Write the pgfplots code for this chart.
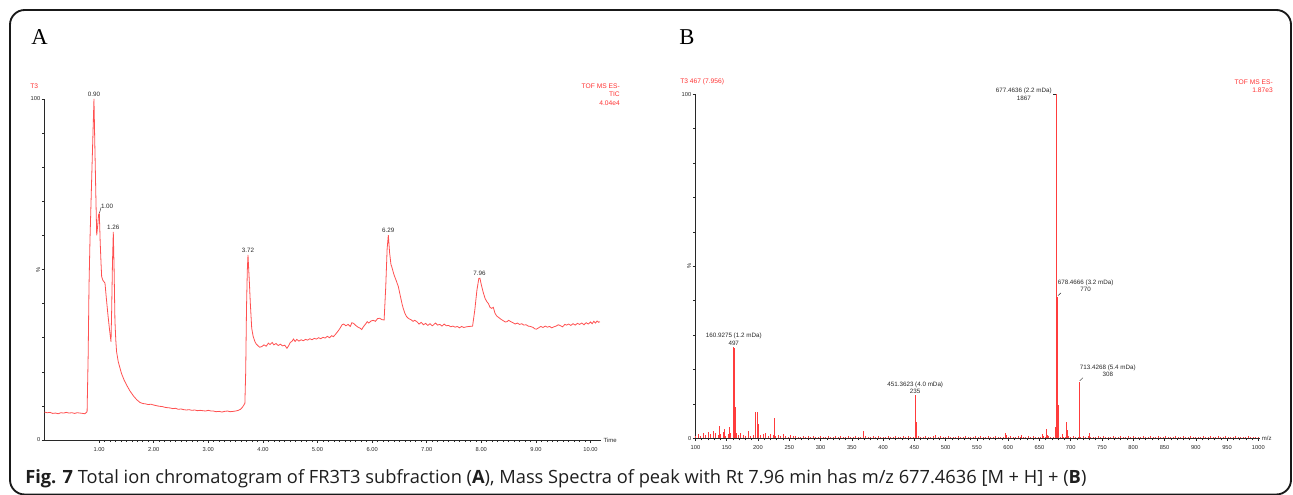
\documentclass[border=0pt]{standalone}
\usepackage{fontspec}
\setmainfont{Liberation Sans}
\newfontfamily\seriffont{Liberation Serif}
\newfontfamily\capfont{Open Sans}
\usepackage{pgfplots}
\pgfplotsset{compat=1.18}
\definecolor{trace}{RGB}{255,80,80}
\definecolor{stick}{RGB}{255,60,60}
\definecolor{redlbl}{RGB}{255,50,50}
\definecolor{tk}{RGB}{40,40,40}
\definecolor{captxt}{RGB}{30,30,30}
\tikzset{pk/.style={font=\fontsize{4.7}{5.6}\selectfont, text=tk, inner sep=0pt, align=center}}
\pgfplotsset{
  msstyle/.style={
    scale only axis, anchor=south west, clip=false,
    ymin=0, ymax=100,
    axis lines=left,
    axis line style={line width=0.7pt, color=tk, -},
    tick align=outside,
    major tick length=2.2pt, minor tick length=1.5pt,
    every tick/.style={color=tk, line width=0.45pt},
    minor tick style={color=tk, line width=0.45pt},
    ytick={0,50,100}, yticklabels={0,\rotatebox{90}{\%},100},
    minor ytick={10,20,30,40,60,70,80,90},
    ticklabel style={font=\fontsize{4.3}{5}\selectfont, color=tk, inner sep=0.8pt},
    xticklabel style={yshift=-2.2pt},
    /pgf/number format/assume math mode=true,
  },
}
\begin{document}
\begin{tikzpicture}[x=0.75pt,y=-0.75pt]
\useasboundingbox (0,0) rectangle (1293,495);
\draw[line width=1.4pt, rounded corners=11pt, black!90] (10,10) rectangle (1291,494.5);
\node[anchor=base west, font=\seriffont\fontsize{17}{17}\selectfont, inner sep=0pt] at (31,45) {A};
\node[anchor=base west, font=\seriffont\fontsize{17}{17}\selectfont, inner sep=0pt] at (679,45) {B};
% ---------------- Panel A ----------------
\begin{axis}[msstyle,
  at={(33.375pt,-330pt)}, width=417.7pt, height=255.75pt,
  xmin=0, xmax=10.2,
  xtick={1,2,3,4,5,6,7,8,9,10},
  xticklabels={1.00,2.00,3.00,4.00,5.00,6.00,7.00,8.00,9.00,10.00},
  minor x tick num=9,
]
\addplot[trace, line width=0.6pt, mark=none] coordinates {
(0.00,8.2)(0.05,8.0)(0.10,8.1)(0.15,7.8)(0.20,7.9)(0.25,7.7)(0.30,8.0)(0.35,7.9)(0.40,8.1)(0.45,7.9)
(0.50,8.0)(0.55,7.8)(0.60,8.0)(0.65,7.9)(0.70,7.8)(0.74,7.7)(0.78,8.3)
(0.80,25)(0.815,45)(0.833,58.6)(0.87,80)(0.906,100)(0.92,88)(0.94,72)(0.956,60)(0.975,63)(0.99,66)(1.004,66.5)
(1.02,58)(1.035,52)(1.047,47.9)(1.07,46.8)(1.09,46.4)(1.108,46.0)(1.13,42)(1.16,37)(1.19,32.5)(1.218,28.8)
(1.23,38)(1.245,52)(1.26,61)(1.275,50)(1.29,35)(1.305,29.5)(1.32,25.9)(1.35,23.0)(1.41,19.5)(1.46,17.5)
(1.505,16.1)(1.56,14.5)(1.63,12.9)(1.69,11.8)(1.75,11.0)(1.80,10.7)(1.85,10.6)(1.90,10.4)(1.95,10.5)(1.99,10.3)
(2.04,10.1)(2.10,9.9)(2.16,9.8)(2.20,9.6)(2.24,9.5)(2.30,9.4)(2.35,9.2)(2.40,9.3)(2.45,9.0)(2.50,9.1)
(2.55,8.9)(2.60,8.8)(2.65,8.9)(2.70,8.7)(2.75,8.8)(2.80,8.6)(2.85,8.7)(2.90,8.6)(2.95,8.5)(3.00,8.7)
(3.05,8.5)(3.09,8.5)(3.14,8.3)(3.20,8.4)(3.25,8.2)(3.30,8.4)(3.35,8.5)(3.40,8.3)(3.46,8.4)(3.50,8.5)
(3.55,8.7)(3.59,9.0)(3.62,9.5)(3.65,10.2)(3.67,10.8)(3.685,20)(3.70,39)(3.715,50)(3.727,54.3)(3.74,50)
(3.75,47)(3.77,40)(3.795,32.8)(3.82,30.5)(3.855,28.8)(3.88,28.1)(3.90,27.8)(3.94,27.2)(3.98,27.4)(4.02,27.9)
(4.06,27.5)(4.10,28.4)(4.13,28.0)(4.17,28.6)(4.20,27.9)(4.24,28.3)(4.28,27.7)(4.32,28.1)(4.36,27.6)(4.40,27.8)
(4.44,26.9)(4.47,27.6)(4.50,28.6)(4.53,28.9)(4.56,29.6)(4.59,28.9)(4.62,29.5)(4.66,29.0)(4.70,29.4)(4.74,29.1)
(4.78,29.5)(4.82,29.3)(4.86,29.7)(4.90,29.4)(4.94,29.8)(4.98,29.6)(5.02,30.0)(5.06,29.7)(5.10,30.1)(5.14,29.9)
(5.18,30.4)(5.22,30.0)(5.26,30.6)(5.29,30.3)(5.33,31.0)(5.37,31.8)(5.41,32.7)(5.45,33.8)(5.48,34.0)(5.52,33.5)
(5.56,33.9)(5.60,33.3)(5.63,34.4)(5.66,34.2)(5.70,33.6)(5.74,33.1)(5.78,32.8)(5.81,32.4)(5.84,33.2)(5.88,34.0)
(5.91,34.7)(5.94,34.3)(5.98,34.9)(6.02,35.1)(6.06,34.8)(6.10,35.6)(6.14,35.7)(6.18,35.3)(6.22,35.2)(6.25,45)
(6.275,56)(6.297,60.1)(6.32,55)(6.345,51.5)(6.36,50.8)(6.40,48.5)(6.44,46.8)(6.48,45)(6.52,42)(6.55,39.8)
(6.57,38.6)(6.60,37.2)(6.63,36.2)(6.67,35.6)(6.71,35.3)(6.75,34.8)(6.78,35.1)(6.82,34.7)(6.86,34.0)(6.90,34.5)
(6.94,33.8)(6.98,34.2)(7.02,33.6)(7.06,34.1)(7.10,33.5)(7.12,33.7)(7.16,34.3)(7.20,33.7)(7.24,33.9)(7.28,33.4)
(7.32,34.0)(7.36,33.5)(7.40,33.6)(7.44,33.2)(7.48,33.4)(7.52,33.1)(7.56,33.3)(7.60,32.9)(7.64,33.3)(7.68,33.0)
(7.73,33.2)(7.78,33.3)(7.84,33.4)(7.88,38)(7.92,44)(7.955,47.4)(7.976,47.4)(8.00,45.5)(8.04,43)(8.07,41.5)
(8.10,40.6)(8.13,40.0)(8.16,38.9)(8.19,38.6)(8.22,38.9)(8.25,37.2)(8.28,36.4)(8.32,35.9)(8.36,35.4)(8.40,35.0)
(8.44,34.6)(8.47,34.7)(8.50,35.1)(8.54,34.7)(8.58,34.4)(8.62,34.0)(8.66,34.3)(8.70,33.9)(8.74,34.1)(8.78,33.7)
(8.82,33.8)(8.86,33.4)(8.90,33.3)(8.95,33.0)(8.98,32.6)(9.01,32.5)(9.05,32.9)(9.09,33.3)(9.13,33.0)(9.17,33.4)
(9.21,33.1)(9.25,33.3)(9.29,32.9)(9.33,33.2)(9.37,33.4)(9.41,33.8)(9.45,33.5)(9.49,33.2)(9.53,33.9)(9.56,33.7)
(9.60,34.0)(9.64,33.6)(9.68,34.1)(9.72,33.7)(9.76,34.2)(9.80,33.9)(9.84,34.3)(9.88,33.8)(9.92,34.4)(9.96,34.0)
(10.00,34.6)(10.03,34.1)(10.06,34.8)(10.09,34.3)(10.12,34.9)(10.15,34.5)(10.17,34.7)
};
\node[pk, anchor=south] at (axis cs:0.906,100.6) {0.90};
\draw[tk, line width=0.3pt] (axis cs:1.008,66.6) -- (axis cs:1.035,68.2);
\node[pk, anchor=south west] at (axis cs:1.03,67.9) {1.00};
\node[pk, anchor=south] at (axis cs:1.26,61.6) {1.26};
\node[pk, anchor=south] at (axis cs:3.727,54.9) {3.72};
\node[pk, anchor=south] at (axis cs:6.297,60.7) {6.29};
\node[pk, anchor=south] at (axis cs:7.966,48.0) {7.96};
\node[anchor=west, font=\fontsize{4.5}{5}\selectfont, text=tk, inner sep=0pt] at (axis cs:10.2,0) {\hspace{1.5pt}Time};
\end{axis}
\node[anchor=west, font=\fontsize{5}{6}\selectfont, text=redlbl, inner sep=0pt] at (30,86) {T3};
\node[anchor=east, font=\fontsize{5}{6}\selectfont, text=redlbl, inner sep=0pt] at (620,86) {TOF MS ES-};
\node[anchor=east, font=\fontsize{5}{6}\selectfont, text=redlbl, inner sep=0pt] at (620,94.5) {TIC};
\node[anchor=east, font=\fontsize{5}{6}\selectfont, text=redlbl, inner sep=0pt] at (620,103) {4.04e4};
% ---------------- Panel B ----------------
\begin{axis}[msstyle,
  at={(521.6pt,-328.7pt)}, width=423.1pt, height=258pt,
  xmin=100, xmax=1002,
  xtick={100,150,...,1000},
  minor x tick num=4,
  xticklabel style={/pgf/number format/1000 sep={}},
]
\addplot[ycomb, stick, line width=0.55pt, mark=none] coordinates {
(100,0.6)(104,1.1)(108,0.8)(112,1.5)(116,0.9)(120,1.8)(124,1.2)(128,2.0)(132,1.4)(136,0.9)
(140,1.3)(144,1.7)(148,0.8)(152,1.1)(156,1.6)(160,0.7)(164,1.2)(168,0.9)(172,1.4)(176,1.0)
(180,0.8)(184,1.3)(188,0.7)(192,1.0)(196,1.2)(200,0.6)(204,0.9)(208,1.1)(212,1.5)(216,0.8)
(220,1.3)(224,1.0)(228,0.7)(232,0.9)(236,0.6)(240,1.1)(244,0.8)(248,0.5)(252,0.9)(256,0.7)(260,0.6)
(264,0.5)(268,0.3)(272,0.7)(276,0.4)(280,0.6)(284,0.3)(288,0.8)(292,0.5)(296,0.4)(300,0.6)
(304,0.3)(308,0.5)(312,0.7)(316,0.4)(320,0.3)(324,0.6)(328,0.5)(332,0.8)(336,0.4)(340,0.3)
(344,0.6)(348,0.4)(352,0.5)(356,0.7)(360,0.3)(364,0.5)(368,0.4)(372,0.6)(376,0.3)(380,0.5)
(384,0.7)(388,0.4)(392,0.6)(396,0.3)(400,0.5)(404,0.4)(408,0.8)(412,0.3)(416,0.5)(420,0.6)
(424,0.4)(428,0.3)(432,0.6)(436,0.5)(440,0.7)(444,0.4)(448,0.3)(452,0.5)(456,0.6)(460,0.4)
(464,0.5)(468,0.7)(472,0.3)(476,0.4)(480,0.6)(484,0.5)(488,0.3)(492,0.7)(496,0.4)(500,0.5)
(504,0.6)(508,0.3)(512,0.5)(516,0.4)(520,0.7)(524,0.5)(528,0.3)(532,0.6)(536,0.4)(540,0.5)
(544,0.3)(548,0.6)(552,0.4)(556,0.8)(560,0.5)(564,0.3)(568,0.6)(572,0.4)(576,0.5)(580,0.7)
(584,0.4)(588,0.5)(592,0.3)(596,0.6)(600,0.4)(604,0.7)(608,0.5)(612,0.3)(616,0.6)(620,0.4)
(624,0.5)(628,0.3)(632,0.7)(636,0.4)(640,0.6)(644,0.5)(648,0.3)(652,0.4)(656,0.6)(660,0.5)
(664,0.7)(668,0.4)(672,0.3)(676,0.5)(680,0.6)(684,0.4)(688,0.5)(692,0.3)(696,0.7)(700,0.4)
(704,0.6)(708,0.5)(712,0.3)(716,0.4)(720,0.7)(724,0.5)(728,0.6)(732,0.3)(736,0.4)(740,0.5)
(744,0.6)(748,0.4)(752,0.7)(756,0.3)(760,0.5)(764,0.4)(768,0.6)(772,0.5)(776,0.3)(780,0.6)
(784,0.4)(788,0.5)(792,0.7)(796,0.3)(800,0.6)(804,0.4)(808,0.5)(812,0.3)(816,0.6)(820,0.4)
(824,0.5)(828,0.7)(832,0.4)(836,0.3)(840,0.6)(844,0.5)(848,0.4)(852,0.6)(856,0.3)(860,0.5)
(864,0.4)(868,0.6)(872,0.5)(876,0.3)(880,0.7)(884,0.4)(888,0.5)(892,0.6)(896,0.3)(900,0.4)
(904,0.5)(908,0.3)(912,0.6)(916,0.4)(920,0.5)(924,0.7)(928,0.3)(932,0.4)(936,0.6)(940,0.5)
(944,0.4)(948,0.6)(952,0.3)(956,0.5)(960,0.4)(964,0.6)(968,0.5)(972,0.3)(976,0.4)(980,0.5)
(984,0.6)(988,0.4)(992,0.5)(996,0.3)(1000,0.5)
(137.8,3.7)(145.8,2.6)(153.8,3.2)(161.0,26.6)(161.9,26.3)(163.5,9.2)(165.0,1.5)(184.2,2.2)
(196.5,7.7)(198.6,7.5)(200.7,4.2)(225.8,5.8)(368.2,2.1)(451.36,12.6)(452.4,4.8)(483.4,1.0)
(594.9,1.6)(596.5,1.0)(620.5,0.9)(655.3,1.2)(660.5,2.7)(663.2,1.0)(674.9,3.4)(676.0,2.0)
(677.46,100)(678.47,41.2)(679.47,9.7)(687.2,1.1)(692.5,4.6)(694.7,2.5)(713.43,16.5)(714.43,6.8)(729.4,1.5)
};
\node[pk, anchor=east] at ([xshift=-3.5pt]axis cs:677.46,100) {677.4636 (2.2 mDa)\\1867};
\draw[tk, line width=0.3pt] ([xshift=-0.3pt]axis cs:677.46,100) -- ([xshift=-2.8pt]axis cs:677.46,100);
\draw[tk, line width=0.3pt] ([xshift=0.5pt,yshift=0.6pt]axis cs:678.47,41.2) -- ([xshift=2.8pt,yshift=2.8pt]axis cs:678.47,41.2);
\node[pk, anchor=south west] at ([xshift=0.2pt, yshift=3.4pt]axis cs:678.47,41.2) {678.4666 (3.2 mDa)\\770};
\draw[tk, line width=0.3pt] ([xshift=0.5pt,yshift=0.6pt]axis cs:713.43,16.5) -- ([xshift=2.8pt,yshift=2.8pt]axis cs:713.43,16.5);
\node[pk, anchor=south west] at ([xshift=0.4pt, yshift=3.4pt]axis cs:713.43,16.5) {713.4268 (5.4 mDa)\\308};
\node[pk, anchor=south] at ([yshift=0.8pt]axis cs:161.2,26.6) {160.9275 (1.2 mDa)\\497};
\node[pk, anchor=south] at ([yshift=0.8pt]axis cs:451.36,12.6) {451.3623 (4.0 mDa)\\235};
\node[anchor=west, font=\fontsize{4.5}{5}\selectfont, text=tk, inner sep=0pt] at (axis cs:1002,0) {\hspace{1.5pt}m/z};
\end{axis}
\node[anchor=west, font=\fontsize{5}{6}\selectfont, text=redlbl, inner sep=0pt] at (680,82) {T3 467 (7.956)};
\node[anchor=east, font=\fontsize{5}{6}\selectfont, text=redlbl, inner sep=0pt] at (1273,82) {TOF MS ES-};
\node[anchor=east, font=\fontsize{5}{6}\selectfont, text=redlbl, inner sep=0pt] at (1273,90.5) {1.87e3};
% caption
\node[anchor=base west, inner sep=0pt, text=captxt, font=\capfont\fontsize{13.7}{15}\selectfont] at (25,483)
  {\textbf{Fig. 7} Total ion chromatogram of FR3T3 subfraction (\textbf{A}), Mass Spectra of peak with Rt 7.96 min has m/z 677.4636 [M + H] + (\textbf{B})};
\end{tikzpicture}
\end{document}
